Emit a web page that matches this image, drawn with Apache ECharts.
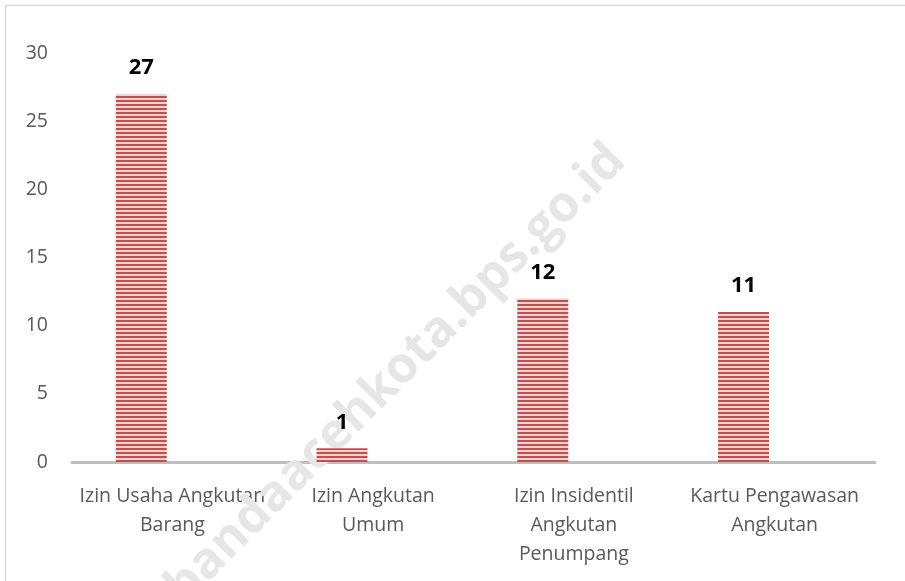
<!DOCTYPE html>
<html>
<head>
<meta charset="utf-8">
<script src="https://cdn.jsdelivr.net/npm/echarts@6/dist/echarts.min.js"></script>
<style>
  html, body { margin: 0; padding: 0; background: #fff; }
  #chart { width: 905px; height: 581px; }
</style>
</head>
<body>
<div id="chart"></div>
<script>
var categories = [
  "Izin Usaha Angkutan\nBarang",
  "Izin Angkutan\nUmum",
  "Izin Insidentil\nAngkutan\nPenumpang",
  "Kartu Pengawasan\nAngkutan"
];
var values = [27, 1, 12, 11];
// second (empty) series of the original sheet, keeps bars left of centre
var emptyValues = [null, null, null, null];

// horizontal stripe fill
var stripe = document.createElement("canvas");
stripe.width = 4;
stripe.height = 4;
var ctx = stripe.getContext("2d");
ctx.fillStyle = "#f3cfcf";
ctx.fillRect(0, 0, 4, 4);
ctx.fillStyle = "#c0504d";
ctx.fillRect(0, 0, 4, 2);

var chart = echarts.init(document.getElementById("chart"));
var option = {
  animation: false,
  textStyle: { fontFamily: "Open Sans" },
  grid: { left: 72, right: 30, top: 53, bottom: 119 },
  graphic: [
    {
      type: "rect",
      shape: { x: 5.5, y: 5.5, width: 1000, height: 1000 },
      style: { fill: "none", stroke: "#d9d9d9", lineWidth: 1.5 },
      z: 0
    },
    {
      type: "text",
      x: 396,
      y: 374,
      rotation: Math.PI / 4,
      style: {
        text: "bandaacehkota.bps.go.id",
        font: "bold 50px 'Open Sans'",
        fill: "#e6e6e6",
        align: "center",
        verticalAlign: "middle"
      },
      z: 1
    }
  ],
  xAxis: {
    type: "category",
    data: categories,
    axisLine: { lineStyle: { color: "#bfbfbf", width: 3 } },
    axisTick: { show: false },
    axisLabel: {
      color: "#595959",
      fontSize: 19.5,
      lineHeight: 29,
      margin: 20,
      interval: 0
    }
  },
  yAxis: {
    type: "value",
    min: 0,
    max: 30,
    interval: 5,
    splitLine: { show: false },
    axisLine: { show: false },
    axisLabel: { color: "#595959", fontSize: 19.5, margin: 24 }
  },
  series: [
    {
      type: "bar",
      z: 5,
      data: values,
      barWidth: 51,
      barGap: "22%",
      itemStyle: { color: { image: stripe, repeat: "repeat" } },
      label: {
        show: true,
        position: "top",
        distance: 15,
        color: "#000",
        fontWeight: "bold",
        fontSize: 22
      }
    },
    {
      type: "bar",
      data: emptyValues,
      barWidth: 51
    }
  ]
};
chart.setOption(option);
</script>
</body>
</html>
